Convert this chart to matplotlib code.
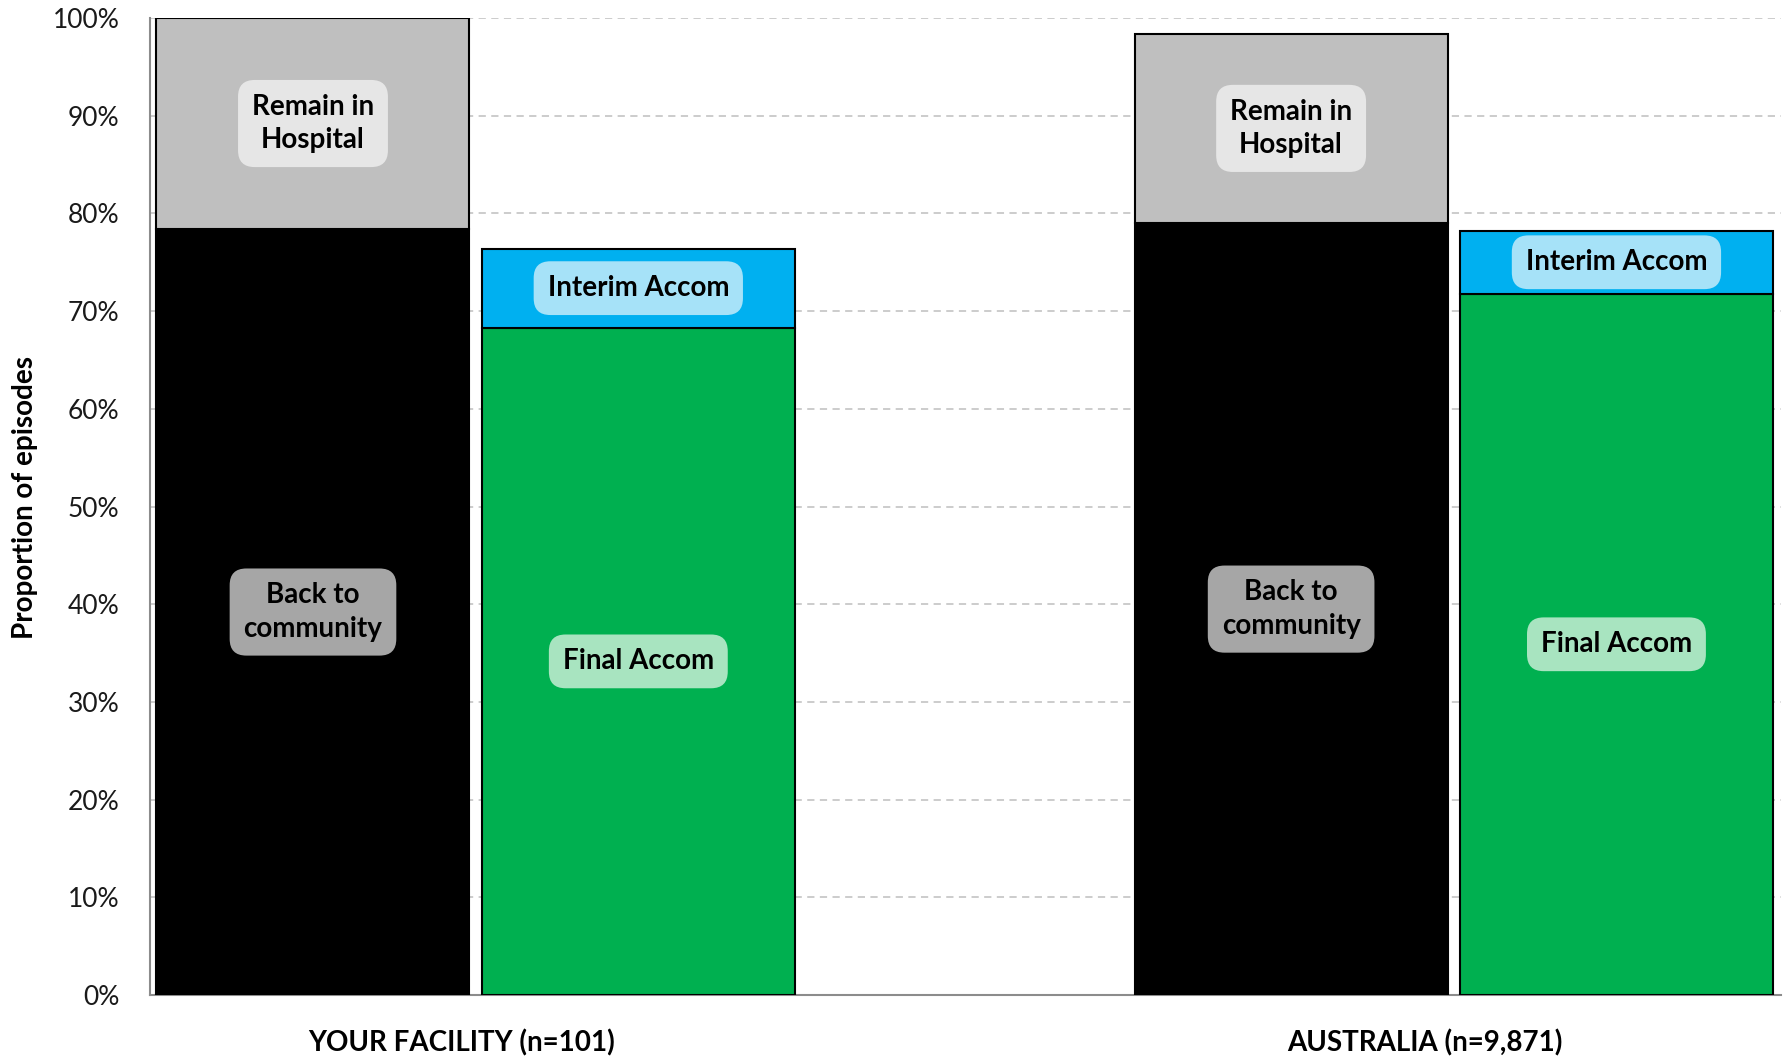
import numpy as np
import matplotlib
matplotlib.use('Agg')
import matplotlib.pyplot as plt
from matplotlib.ticker import PercentFormatter

# data (percent of episodes)
groups = ["YOUR FACILITY (n=101)", "AUSTRALIA (n=9,871)"]
back_to_community = [78.4, 79.0]
remain_in_hospital = [21.6, 19.4]
final_accom = [68.3, 71.8]
interim_accom = [8.1, 6.4]

plt.rcParams['font.family'] = ['Lato', 'DejaVu Sans']

fig = plt.figure(figsize=(17.87, 10.59), dpi=100)
ax = fig.add_axes([0.0839, 0.0604, 0.913, 0.9226])

x = np.arange(len(groups))
w = 0.32
off = 0.1663

left_x = x - off
right_x = x + off

ax.bar(left_x, back_to_community, w, color='black', edgecolor='black', lw=1.5, zorder=3)
ax.bar(left_x, remain_in_hospital, w, bottom=back_to_community, color='#bfbfbf',
       edgecolor='black', lw=1.5, zorder=3)
ax.bar(right_x, final_accom, w, color='#00b050', edgecolor='black', lw=1.5, zorder=3)
ax.bar(right_x, interim_accom, w, bottom=final_accom, color='#00b0f0',
       edgecolor='black', lw=1.5, zorder=3)

def seg_label(xp, bottom, height, text, fc):
    ax.text(xp, bottom + height / 2, text, ha='center', va='center', fontsize=20,
            fontweight='bold', color='black', linespacing=1.35, zorder=5,
            bbox=dict(boxstyle='round,pad=0.5,rounding_size=0.6', fc=fc, ec='none'))

for i in range(len(groups)):
    seg_label(left_x[i], 0, back_to_community[i], "Back to\ncommunity", '#a6a6a6')
    seg_label(left_x[i], back_to_community[i], remain_in_hospital[i], "Remain in\nHospital", '#e6e6e6')
    seg_label(right_x[i], 0, final_accom[i], "Final Accom", '#a8e4c0')
    seg_label(right_x[i], final_accom[i], interim_accom[i], "Interim Accom", '#a6e2f8')

ax.set_xlim(-0.333, 1.335)
ax.set_ylim(0, 100)
ax.set_yticks(np.arange(0, 101, 10))
ax.yaxis.set_major_formatter(PercentFormatter(decimals=0))
ax.tick_params(axis='y', length=0, labelsize=19, pad=22, labelcolor='#1a1a1a')
# category labels sit a bit left of the group centres, as in the original
ax.set_xticks(x - np.array([0.014, 0.030]))
ax.set_xticklabels(groups, fontsize=20, fontweight='bold')
ax.tick_params(axis='x', length=0, pad=25)

ax.grid(axis='y', color='#c8c8c8', ls=(0, (4, 3)), lw=1.3, zorder=0)
for s in ['top', 'right']:
    ax.spines[s].set_visible(False)
ax.spines['left'].set_color('#8c8c8c')
ax.spines['bottom'].set_color('#8c8c8c')
ax.spines['left'].set_linewidth(1.5)
ax.spines['bottom'].set_linewidth(1.5)

fig.text(0.014, 0.53, "Proportion of episodes", rotation=90, ha='center', va='center',
         fontsize=20, fontweight='bold')

fig.savefig('out.png', dpi=100)
